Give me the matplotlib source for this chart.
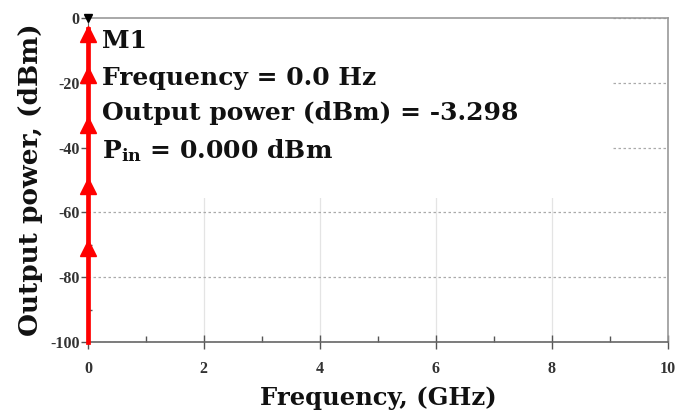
import matplotlib
matplotlib.use("Agg")
import matplotlib.pyplot as plt
from matplotlib.patches import Rectangle

# Data
freq_ghz = [0.0, 0.0]
power_dbm = [-100.0, -3.298]
arrow_y = [-71, -52, -33, -17.5, -5]
marker_freq = 0.0
marker_power = 0.0
x_ticks = [0, 2, 4, 6, 8, 10]
y_ticks = [0, -20, -40, -60, -80, -100]
annot_lines = ["M1", "Frequency = 0.0 Hz", "Output power (dBm) = -3.298",
               r"P$_{\mathbf{in}}$ = 0.000 dBm"]

serif = "DejaVu Serif"
tickfont = "Liberation Serif"
plt.rcParams['mathtext.fontset'] = 'dejavuserif'
plt.rcParams['axes.unicode_minus'] = False

fig = plt.figure(figsize=(6.92, 4.16), dpi=100)
ax = fig.add_axes([0.127, 0.178, 0.838, 0.779])
ax.set_xlim(0, 10)
ax.set_ylim(-100, 0)
ax.set_axisbelow(True)

ax.set_xticks(x_ticks)
ax.set_yticks(y_ticks)
ax.set_xticks([1, 3, 5, 7, 9], minor=True)
ax.set_yticks([-10, -30, -50, -70, -90], minor=True)
ax.tick_params(axis='x', which='major', direction='inout', length=10, width=1, color='#555555')
ax.tick_params(axis='x', which='minor', direction='in', length=4, width=1, color='#555555')
ax.tick_params(axis='y', which='major', direction='out', length=5, width=1, color='#555555')
ax.tick_params(axis='y', which='minor', direction='in', length=3, width=1, color='#555555')
for lab in ax.get_xticklabels() + ax.get_yticklabels():
    lab.set_fontfamily(tickfont)
    lab.set_fontweight('bold')
    lab.set_fontsize(11.5)
    lab.set_color('#333333')
ax.tick_params(axis='x', pad=9)
ax.tick_params(axis='y', pad=1)

ax.grid(True, axis='y', which='major', color='#aaaaaa', linestyle=(0, (2, 2)), linewidth=0.9)
ax.grid(True, axis='x', which='major', color='#e4e4e4', linestyle='-', linewidth=0.9)

for s in ['top', 'right']:
    ax.spines[s].set_color('#999999')
    ax.spines[s].set_linewidth(1.2)
ax.spines['bottom'].set_color('#666666')
ax.spines['bottom'].set_linewidth(1.2)
ax.spines['left'].set_color('#666666')

# white box behind annotation
ax.add_patch(Rectangle((0, 0.445), 0.903, 0.555, transform=ax.transAxes,
                       facecolor='white', edgecolor='none', zorder=1))

ax.plot(freq_ghz, power_dbm, color='#ff0000', linewidth=3.4, zorder=3, clip_on=False)
ax.plot([marker_freq] * len(arrow_y), arrow_y, linestyle='none', marker='^',
        markersize=12, color='#ff0000', zorder=3, clip_on=False)
ax.plot([marker_freq], [marker_power], linestyle='none', marker='v', markersize=6,
        color='black', zorder=4, clip_on=False)

ys = [0.93, 0.815, 0.705, 0.59]
for t, y in zip(annot_lines, ys):
    ax.text(0.024, y, t, transform=ax.transAxes, fontfamily=serif, fontweight='bold',
            fontsize=18, color='#111111', va='center', ha='left', zorder=5)

ax.set_xlabel("Frequency, (GHz)", fontfamily=serif, fontweight='bold', fontsize=17.5,
              color='#111111', labelpad=6)
ax.set_ylabel("Output power, (dBm)", fontfamily=serif, fontweight='bold', fontsize=19,
              color='#111111', labelpad=5)

fig.savefig("out.png", dpi=100)
